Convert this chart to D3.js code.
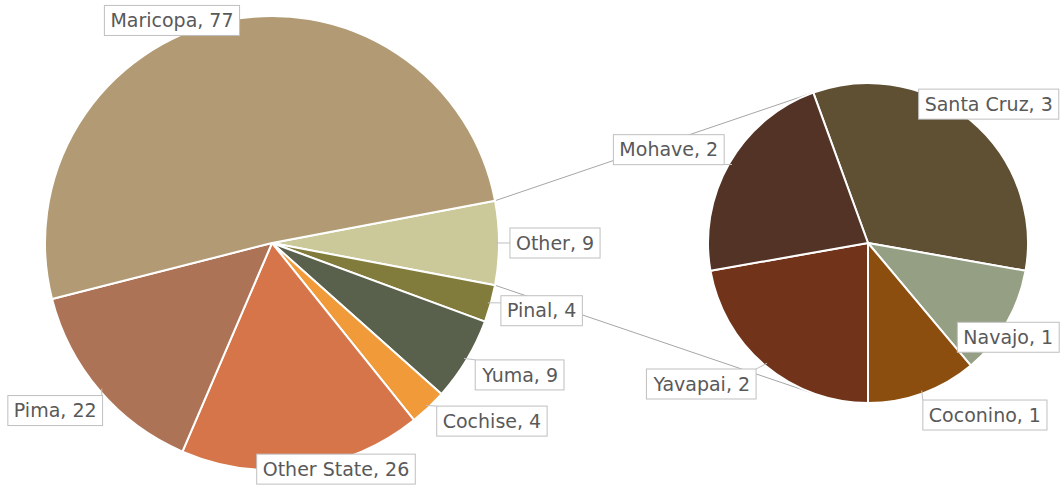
<!DOCTYPE html>
<html>
<head>
<meta charset="utf-8">
<script src="https://cdn.jsdelivr.net/npm/d3@7"></script>
<style>
  body { margin: 0; background: #fff; }
  text { font-family: "DejaVu Sans", sans-serif; font-size: 19px; fill: #595959; }
</style>
</head>
<body>
<div id="viz"></div>
<script>
// main pie, clockwise from the "Other" slice
const mainNames = ['Other', 'Pinal', 'Yuma', 'Cochise', 'Other State', 'Pima', 'Maricopa'];
const mainValues = [9, 4, 9, 4, 26, 22, 77];
// breakdown of "Other", clockwise
const subNames = ['Santa Cruz', 'Navajo', 'Coconino', 'Yavapai', 'Mohave'];
const subValues = [3, 1, 1, 2, 2];

const mainColors = ['#CBC899', '#827C3C', '#59614D', '#F09A3A', '#D6754A', '#AD7356', '#B29B74'];
const subColors = ['#5F4F33', '#949F84', '#8B4E0E', '#71341A', '#523325'];

let width = 1064, height = 485,
    c1 = { x: 272, y: 243, r: 227 },
    c2 = { x: 868, y: 243, r: 160 };

// label placement: angle (deg, clockwise from top) and distance from pie centre
let mainLabelPos = {
  'Maricopa': [335.8, 244], 'Other': [90, 283], 'Pinal': [104.1, 278], 'Yuma': [118, 281],
  'Cochise': [129, 283], 'Other State': [164.2, 235], 'Pima': [232.3, 274]
};
let subLabelPos = {
  'Mohave': [295.1, 220], 'Santa Cruz': [41, 184], 'Navajo': [123.9, 169],
  'Coconino': [145.8, 208], 'Yavapai': [229.7, 218]
};

let rad = d => d * Math.PI / 180;
let total = d3.sum(mainValues);
let otherSpan = mainValues[0] / total * 2 * Math.PI;

let svg = d3.select('#viz').append('svg')
  .attr('width', width)
  .attr('height', height);

let mainPie = d3.pie().sort(null)
  .startAngle(Math.PI / 2 - otherSpan / 2)
  .endAngle(Math.PI / 2 - otherSpan / 2 + 2 * Math.PI);
let subPie = d3.pie().sort(null)
  .startAngle(rad(-20))
  .endAngle(rad(340));

let mainColor = d3.scaleOrdinal().domain(mainNames).range(mainColors);
let subColor = d3.scaleOrdinal().domain(subNames).range(subColors);

let mainData = mainPie(mainValues.map((v, i) => ({ name: mainNames[i], value: v })).map(d => d.value))
  .map((p, i) => Object.assign(p, { name: mainNames[i] }));
let subData = subPie(subValues)
  .map((p, i) => Object.assign(p, { name: subNames[i] }));

let polar = (c, a, r) => [c.x + r * Math.sin(a), c.y - r * Math.cos(a)];

// connector lines between the two pies
let oth = mainData[0];
let lines = [
  [polar(c1, oth.startAngle, c1.r), polar(c2, rad(-20), c2.r)],
  [polar(c1, oth.endAngle, c1.r), polar(c2, rad(200), c2.r)]
];
svg.selectAll('line.conn').data(lines)
  .enter().append('line')
  .attr('class', 'conn')
  .attr('x1', d => d[0][0]).attr('y1', d => d[0][1])
  .attr('x2', d => d[1][0]).attr('y2', d => d[1][1])
  .attr('stroke', '#a6a6a6')
  .attr('stroke-width', 1);

let arc1 = d3.arc().innerRadius(0).outerRadius(c1.r);
let arc2 = d3.arc().innerRadius(0).outerRadius(c2.r);

svg.append('g')
  .attr('transform', 'translate(' + c1.x + ',' + c1.y + ')')
  .selectAll('path').data(mainData)
  .enter().append('path')
  .attr('d', arc1)
  .attr('fill', d => mainColor(d.name))
  .attr('stroke', '#fff')
  .attr('stroke-width', 2)
  .attr('stroke-linejoin', 'round');

svg.append('g')
  .attr('transform', 'translate(' + c2.x + ',' + c2.y + ')')
  .selectAll('path').data(subData)
  .enter().append('path')
  .attr('d', arc2)
  .attr('fill', d => subColor(d.name))
  .attr('stroke', '#fff')
  .attr('stroke-width', 2)
  .attr('stroke-linejoin', 'round');

// data callouts
function addLabel(c, d, pos) {
  let p = polar(c, rad(pos[0]), pos[1]);
  let g = svg.append('g');
  let t = g.append('text')
    .attr('x', p[0])
    .attr('y', p[1])
    .attr('text-anchor', 'middle')
    .attr('dy', '0.35em')
    .text(d.name + ', ' + d.value);
  let bb = t.node().getBBox();
  let bx = bb.x - 6, by = p[1] - 15, bw = bb.width + 12, bh = 30;

  // leader from slice edge to nearest point of the box
  let mid = (d.startAngle + d.endAngle) / 2;
  let s = polar(c, mid, c.r - 3);
  let nx = Math.max(bx, Math.min(s[0], bx + bw)),
      ny = Math.max(by, Math.min(s[1], by + bh));
  if (Math.hypot(nx - s[0], ny - s[1]) > 6) {
    g.insert('line', 'text')
      .attr('x1', s[0]).attr('y1', s[1])
      .attr('x2', nx).attr('y2', ny)
      .attr('stroke', '#bfbfbf')
      .attr('stroke-width', 1);
  }
  g.insert('rect', 'text')
    .attr('x', bx).attr('y', by)
    .attr('width', bw).attr('height', bh)
    .attr('fill', '#fff')
    .attr('stroke', '#bfbfbf')
    .attr('stroke-width', 1);
}

mainData.forEach(d => addLabel(c1, d, mainLabelPos[d.name]));
subData.forEach(d => addLabel(c2, d, subLabelPos[d.name]));
</script>
</body>
</html>
